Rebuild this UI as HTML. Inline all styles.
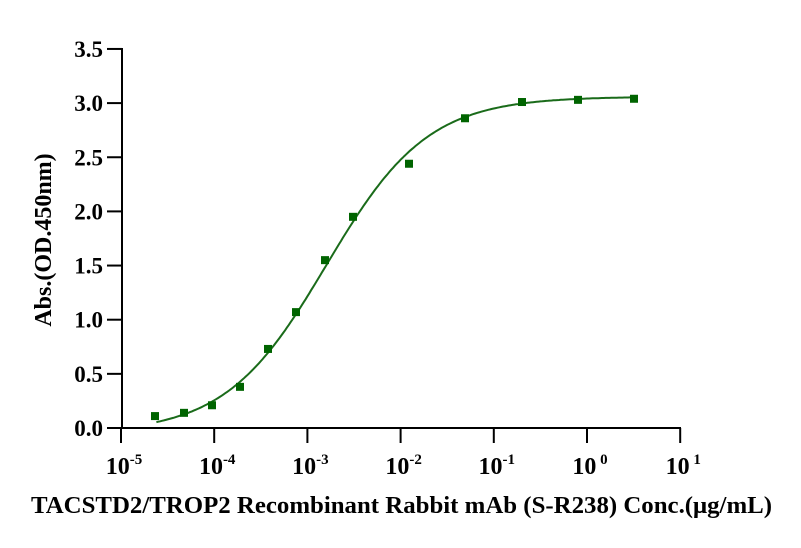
<!DOCTYPE html>
<html><head><style>
body{margin:0;background:#fff;}
svg{display:block;font-family:"Liberation Serif",serif;font-weight:bold;}
</style></head><body>
<svg id="s" width="801" height="548" viewBox="0 0 801 548">
<g stroke="#000" stroke-width="2" fill="none">
<line x1="122" y1="48" x2="122" y2="429"/>
<line x1="107" y1="428" x2="681" y2="428"/>
</g>
<g id="g"></g>
<text x="0" y="0" font-size="24" transform="translate(51,240) rotate(-90)" text-anchor="middle">Abs.(OD.450nm)</text>
<text x="31" y="513" font-size="24" textLength="741" lengthAdjust="spacingAndGlyphs">TACSTD2/TROP2 Recombinant Rabbit mAb (S-R238) Conc.(μg/mL)</text>
</svg>
<script>
var g=document.getElementById('g'),h='';
function X(c){return 121+(Math.log10(c)+5)*93.2;}
function Y(v){return 428-v*108.3;}
for(var i=0;i<=7;i++){var v=i*0.5,y=Y(v);h+='<line x1="107" y1="'+y+'" x2="122" y2="'+y+'" stroke="#000" stroke-width="2"/>';
h+='<text x="103" y="'+(y+8)+'" font-size="23" text-anchor="end">'+v.toFixed(1)+'</text>';}
for(var e=-5;e<=1;e++){var x=121+(e+5)*93.2;h+='<line x1="'+x+'" y1="428" x2="'+x+'" y2="443" stroke="#000" stroke-width="2"/>';
h+='<text x="'+(x+3)+'" y="474" font-size="24" text-anchor="middle">10<tspan font-size="15" dy="-10">'+(e<0?'-'+(-e):' '+e)+'</tspan></text>';}
function f(c){return -0.05+3.11/(1+Math.pow(1.6e-3/c,0.8));}
var d='';for(var lx=Math.log10(2.4e-5);lx<=Math.log10(3.1);lx+=0.02){var c=Math.pow(10,lx);d+=(d?'L':'M')+X(c).toFixed(1)+','+Y(f(c)).toFixed(1);}
h+='<path d="'+d+'" fill="none" stroke="#1a6b1a" stroke-width="2"/>';
var px=[155,184,212,240,268,296,325,353,409,465,522,578,634],py=[0.11,0.14,0.21,0.38,0.73,1.07,1.55,1.95,2.44,2.86,3.01,3.03,3.04];
for(var k=0;k<px.length;k++){h+='<rect x="'+(px[k]-4)+'" y="'+(Y(py[k])-4)+'" width="8" height="8" fill="#006400"/>';}
g.innerHTML=h;
</script>
</body></html>
